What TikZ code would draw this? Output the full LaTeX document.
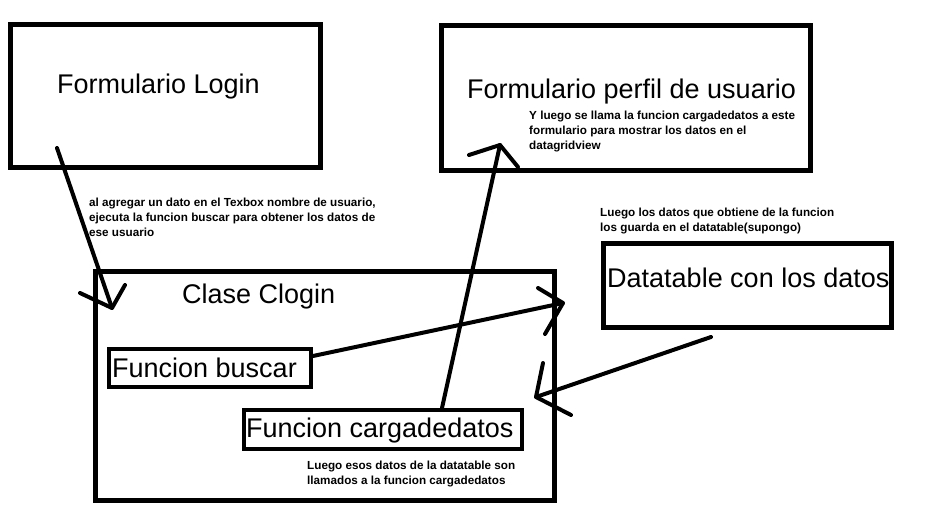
\documentclass[tikz,border=0pt]{standalone}
\usepackage{fontspec}
\setmainfont{Liberation Sans}
\begin{document}
\begin{tikzpicture}[x=1pt,y=1pt,
  box/.style={draw=black,line width=#1,inner sep=0pt,rectangle},
  box/.default=4.6pt,
  bigtext/.style={anchor=base west,inner sep=0pt,font=\fontsize{27}{32}\selectfont},
  note/.style={anchor=base west,inner sep=0pt,font=\fontsize{11.7}{15}\selectfont\bfseries},
  stroke/.style={line width=4pt,line cap=round,line join=round}]
\useasboundingbox (0,0) rectangle (934,-530);
\fill[white] (0,0) rectangle (934,-530);
% boxes
\node[box=5pt,minimum width=310pt,minimum height=143pt] (login) at (165.5,-96) {};
\node[box=5pt,minimum width=369pt,minimum height=145pt] (perfil) at (626,-98) {};
\node[box=4.7pt,minimum width=459pt,minimum height=229pt] (clogin) at (325,-386) {};
\node[box=4pt,minimum width=202pt,minimum height=38pt] (buscar) at (210,-368) {};
\node[box=4pt,minimum width=278pt,minimum height=39pt] (carga) at (383,-429.5) {};
\node[box=4.6pt,minimum width=288pt,minimum height=84pt] (dtable) at (747.5,-285.5) {};
% big texts
\node[bigtext] (tlogin) at (57,-93) {Formulario Login};
\node[bigtext] (tperfil) at (467,-98) {Formulario perfil de usuario};
\node[bigtext] (tclogin) at (182,-303) {Clase Clogin};
\node[bigtext] (tbuscar) at (112,-377) {Funcion buscar};
\node[bigtext] (tcarga) at (246,-437) {Funcion cargadedatos};
\node[bigtext] (tdtable) at (607,-287) {Datatable con los datos};
% notes
\node[note] (nperfil) at (529,-119) {\begin{tabular}[t]{@{}l@{}}Y luego se llama la funcion cargadedatos a este\\formulario para mostrar los datos en el\\datagridview\end{tabular}};
\node[note] (nlogin) at (89,-206) {\begin{tabular}[t]{@{}l@{}}al agregar un dato en el Texbox nombre de usuario,\\ejecuta la funcion buscar para obtener los datos de\\ese usuario\end{tabular}};
\node[note] (ndtable) at (600,-216) {\begin{tabular}[t]{@{}l@{}}Luego los datos que obtiene de la funcion\\los guarda en el datatable(supongo)\end{tabular}};
\node[note] (ncarga) at (307,-469) {\begin{tabular}[t]{@{}l@{}}Luego esos datos de la datatable son\\llamados a la funcion cargadedatos\end{tabular}};
% arrow coordinates
\coordinate (a1s) at (57,-148);
\coordinate (a1t) at (112,-308);
\coordinate (a1l) at (80,-293);
\coordinate (a1r) at (125,-285);
\coordinate (a2s) at (313,-356);
\coordinate (a2t) at (563,-303);
\coordinate (a2l) at (538,-288);
\coordinate (a2r) at (545,-334);
\coordinate (a3s) at (442,-408);
\coordinate (a3t) at (500,-145);
\coordinate (a3l) at (469,-155);
\coordinate (a3r) at (518,-167);
\coordinate (a4s) at (711,-337);
\coordinate (a4t) at (536,-397);
\coordinate (a4l) at (543,-363);
\coordinate (a4r) at (571,-415);
% arrows
\draw[stroke] (a1s) -- (a1t);
\draw[stroke] (a1l) -- (a1t) -- (a1r);
\draw[stroke] (a2s) -- (a2t);
\draw[stroke] (a2l) -- (a2t) -- (a2r);
\draw[stroke] (a3s) -- (a3t);
\draw[stroke] (a3l) -- (a3t) -- (a3r);
\draw[stroke] (a4s) -- (a4t);
\draw[stroke] (a4l) -- (a4t) -- (a4r);
\end{tikzpicture}
\end{document}
